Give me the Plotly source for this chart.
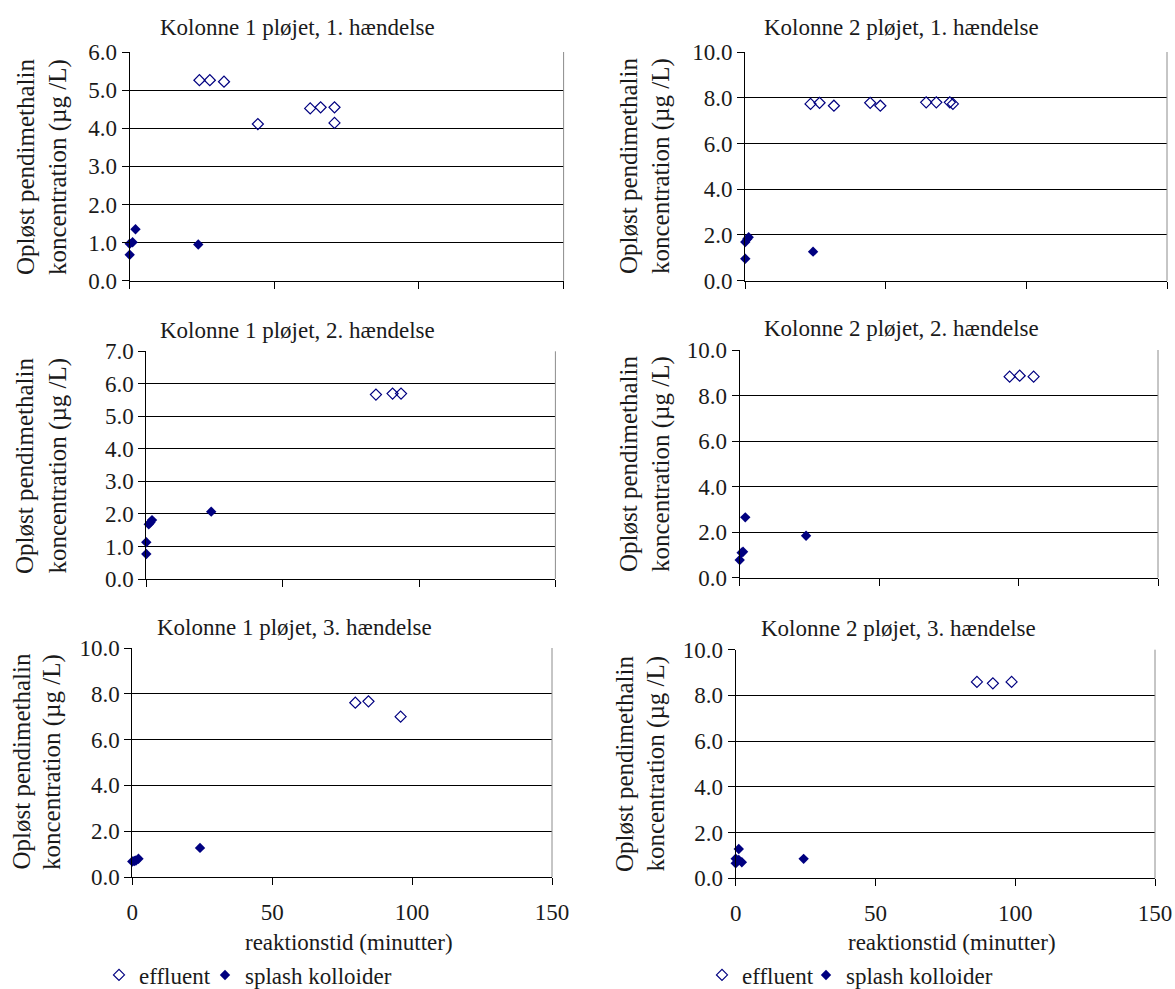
import plotly.graph_objects as go

W, H = 1175, 989
FONT = "Liberation Serif"
NAVY = "#000080"
TXT = "#1a1a1a"

# ---------------- data (reaktionstid in minutes, concentration in µg/L) ----------------
titles = ["Kolonne 1 pløjet, 1. hændelse", "Kolonne 2 pløjet, 1. hændelse",
          "Kolonne 1 pløjet, 2. hændelse", "Kolonne 2 pløjet, 2. hændelse",
          "Kolonne 1 pløjet, 3. hændelse", "Kolonne 2 pløjet, 3. hændelse"]

series_names = ["effluent", "splash kolloider"]
x_tick_vals = [0, 50, 100, 150]
y_max = [6, 10, 7, 10, 10, 10]
y_step = [1, 2, 1, 2, 2, 2]

# Kolonne 1, 1. hændelse
k1h1_eff_t = [24.1, 27.7, 32.6, 44.3, 62.4, 66.0, 70.8, 70.8]
k1h1_eff_c = [5.26, 5.26, 5.22, 4.11, 4.52, 4.55, 4.55, 4.14]
k1h1_spl_t = [0.0, 0.0, 1.0, 2.0, 23.7]
k1h1_spl_c = [0.68, 0.97, 1.01, 1.35, 0.95]

# Kolonne 2, 1. hændelse
k2h1_eff_t = [23.3, 26.5, 31.6, 44.5, 48.1, 64.4, 68.0, 72.8, 73.9]
k2h1_eff_c = [7.73, 7.78, 7.65, 7.78, 7.65, 7.80, 7.80, 7.80, 7.73]
k2h1_spl_t = [0.1, 0.1, 0.8, 1.3, 24.2]
k2h1_spl_c = [0.96, 1.69, 1.82, 1.90, 1.27]

# Kolonne 1, 2. hændelse
k1h2_eff_t = [84.2, 90.3, 93.4]
k1h2_eff_c = [5.67, 5.70, 5.70]
k1h2_spl_t = [0.0, 0.0, 0.9, 1.5, 2.1, 23.8]
k1h2_spl_c = [0.77, 1.13, 1.68, 1.74, 1.81, 2.07]

# Kolonne 2, 2. hændelse
k2h2_eff_t = [96.8, 100.4, 105.4]
k2h2_eff_c = [8.83, 8.87, 8.83]
k2h2_spl_t = [0.0, 0.7, 1.2, 2.0, 23.8]
k2h2_spl_c = [0.78, 1.10, 1.14, 2.65, 1.84]

# Kolonne 1, 3. hændelse
k1h3_eff_t = [79.7, 84.4, 95.9]
k1h3_eff_c = [7.61, 7.67, 7.00]
k1h3_spl_t = [0.0, 0.7, 1.3, 2.2, 24.2]
k1h3_spl_c = [0.68, 0.70, 0.72, 0.80, 1.27]

# Kolonne 2, 3. hændelse
k2h3_eff_t = [86.3, 92.0, 98.7]
k2h3_eff_c = [8.59, 8.53, 8.59]
k2h3_spl_t = [0.0, 0.0, 1.1, 1.1, 2.2, 24.3]
k2h3_spl_c = [0.86, 0.66, 1.28, 0.80, 0.70, 0.85]

panels = [
    (k1h1_eff_t, k1h1_eff_c, k1h1_spl_t, k1h1_spl_c),
    (k2h1_eff_t, k2h1_eff_c, k2h1_spl_t, k2h1_spl_c),
    (k1h2_eff_t, k1h2_eff_c, k1h2_spl_t, k1h2_spl_c),
    (k2h2_eff_t, k2h2_eff_c, k2h2_spl_t, k2h2_spl_c),
    (k1h3_eff_t, k1h3_eff_c, k1h3_spl_t, k1h3_spl_c),
    (k2h3_eff_t, k2h3_eff_c, k2h3_spl_t, k2h3_spl_c),
]

y_title_1 = "Opløst pendimethalin"
y_title_2 = "koncentration (µg /L)"
x_title = "reaktionstid (minutter)"

# ---------------- layout geometry (pixels) ----------------
# plot area boxes: x0, x1, y_top, y_bottom
boxes = [
    (129.7, 563.6, 52.0, 280.7),
    (745.0, 1167.0, 52.0, 280.7),
    (146.3, 555.4, 351.3, 579.0),
    (739.7, 1158.0, 350.0, 577.7),
    (132.3, 552.0, 648.0, 877.0),
    (735.7, 1155.0, 649.7, 878.3),
]
title_pos = [(297, 27), (901, 27), (297, 330), (901, 328), (295, 627), (898, 628)]
ytitle_pos = [(25, 58, 167), (628, 661, 166), (25, 57.6, 466), (628, 661, 464),
              (20.5, 52, 762), (624, 655.6, 764)]
xtitle_pos = [(349, 942), (951.5, 942)]
# legend boxes (left edge px, centre y px) for: left effluent, left splash, right effluent, right splash
legend_pos = [(99, 975), (205, 975), (702, 975), (806, 975)]

px = lambda v: v / W
py = lambda v: 1 - v / H

fig = go.Figure()
layout = dict(
    width=W, height=H,
    margin=dict(l=0, r=0, t=0, b=0, autoexpand=False),
    paper_bgcolor="white", plot_bgcolor="white",
    font=dict(family=FONT, size=23, color=TXT),
    annotations=[], shapes=[],
)

legend_names = {5: ("legend", "legend2"), 6: ("legend3", "legend4")}

for i, (et, ec, st, sc) in enumerate(panels):
    n = i + 1
    xname = "x" if n == 1 else f"x{n}"
    yname = "y" if n == 1 else f"y{n}"
    show = n in legend_names
    common = dict(xaxis=xname, yaxis=yname, mode="markers", cliponaxis=False,
                  showlegend=show, hoverinfo="x+y")
    eff_kw, spl_kw = dict(common), dict(common)
    if show:
        eff_kw["legend"], spl_kw["legend"] = legend_names[n]
    fig.add_trace(go.Scatter(x=et, y=ec, name=series_names[0],
                             marker=dict(symbol="diamond-open", size=8.5, color=NAVY,
                                         line=dict(width=1.2, color=NAVY)), **eff_kw))
    fig.add_trace(go.Scatter(x=st, y=sc, name=series_names[1],
                             marker=dict(symbol="diamond", size=8, color=NAVY,
                                         line=dict(width=0)), **spl_kw))

    x0, x1, yt, yb = boxes[i]
    bottom_row = n >= 5
    layout["xaxis" if n == 1 else f"xaxis{n}"] = dict(
        domain=[px(x0), px(x1)], anchor=yname, range=[0, 150],
        tickmode="array", tickvals=x_tick_vals,
        showticklabels=bottom_row, ticks="outside", ticklen=7, tickcolor="black",
        tickwidth=1, showline=True, linecolor="black", linewidth=1,
        showgrid=False, zeroline=False, fixedrange=True,
        tickfont=dict(family=FONT, size=23, color=TXT),
        ticklabelstandoff=7,
    )
    layout["yaxis" if n == 1 else f"yaxis{n}"] = dict(
        domain=[py(yb), py(yt)], anchor=xname, range=[0, y_max[i]],
        tick0=0, dtick=y_step[i], tickformat=".1f",
        ticks="outside", ticklen=7, tickcolor="black", tickwidth=1,
        showline=True, linecolor="black", linewidth=1,
        showgrid=True, gridcolor="black", gridwidth=1, zeroline=False, fixedrange=True,
        tickfont=dict(family=FONT, size=23, color=TXT),
    )
    # grey right border of the plot area
    layout["shapes"].append(dict(type="line", xref=f"{xname} domain", yref=f"{yname} domain",
                                 x0=1, x1=1, y0=0, y1=1, line=dict(color="#8c8c8c", width=1)))
    # panel title
    tx, ty = title_pos[i]
    layout["annotations"].append(dict(text=titles[i], x=px(tx), y=py(ty), xref="paper", yref="paper",
                                      xanchor="center", yanchor="middle", showarrow=False,
                                      font=dict(family=FONT, size=23, color=TXT)))
    # y-axis title (two lines)
    l1x, l2x, ly = ytitle_pos[i]
    for txt, lx in ((y_title_1, l1x), (y_title_2, l2x)):
        layout["annotations"].append(dict(text=txt, x=px(lx), y=py(ly), xref="paper", yref="paper",
                                          xanchor="center", yanchor="middle", showarrow=False,
                                          textangle=-90,
                                          font=dict(family=FONT, size=25, color=TXT)))

for (xx, yy) in xtitle_pos:
    layout["annotations"].append(dict(text=x_title, x=px(xx), y=py(yy), xref="paper", yref="paper",
                                      xanchor="center", yanchor="middle", showarrow=False,
                                      font=dict(family=FONT, size=23, color=TXT)))

leg_common = dict(orientation="h", xanchor="left", yanchor="middle",
                  font=dict(family=FONT, size=23, color=TXT), bgcolor="rgba(0,0,0,0)",
                  itemwidth=30, borderwidth=0, itemclick=False, itemdoubleclick=False)
for key, (lx, ly) in zip(["legend", "legend2", "legend3", "legend4"], legend_pos):
    layout[key] = dict(x=px(lx), y=py(ly), **leg_common)

fig.update_layout(**layout)
fig.write_html("out.html")
